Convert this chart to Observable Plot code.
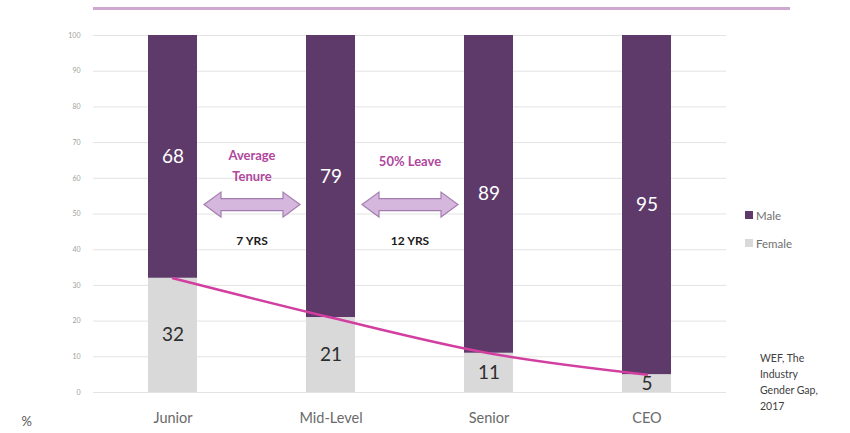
<!DOCTYPE html>
<html>
<head>
<meta charset="utf-8">
<script src="https://cdn.jsdelivr.net/npm/d3@7"></script>
<script src="https://cdn.jsdelivr.net/npm/@observablehq/plot@0.6"></script>
<style>
  body { margin: 0; background: #fff; font-family: Lato, "Open Sans", sans-serif; }
  #wrap { position: relative; width: 850px; height: 433px; overflow: hidden; }
  #topline { position: absolute; left: 93px; top: 7px; width: 697px; height: 3px; background: #cfa7cf; }
  #legend { position: absolute; left: 745px; top: 201px; font-size: 11.5px; color: #707070; }
  #legend div { height: 28px; display: flex; align-items: center; }
  #legend span.sw { display: inline-block; width: 8px; height: 8px; margin-right: 3px; }
  #source { position: absolute; left: 760px; top: 350px; font-size: 10.5px; line-height: 16px; color: #404040; }
  svg text { font-family: Lato, "Open Sans", sans-serif; }
</style>
</head>
<body>
<div id="wrap">
  <div id="topline"></div>
  <div id="legend"></div>
  <div id="source"></div>
</div>
<script>
// Share of men and women at each career level (percent)
const levels = ["Junior", "Mid-Level", "Senior", "CEO"];
const male = [68, 79, 89, 95];
const female = [32, 21, 11, 5];
const genders = ["Male", "Female"];
const genderColors = ["#5d3a69", "#d9d9d9"];
const yTicks = d3.range(0, 101, 10);

// Annotated transitions between levels
const spans = [
  {from: "Junior", to: "Mid-Level", title: ["Average", "Tenure"], years: "7 YRS"},
  {from: "Mid-Level", to: "Senior", title: ["50% Leave"], years: "12 YRS"}
];
const sourceLines = ["WEF, The", "Industry", "Gender Gap,", "2017"];

// Long table: female first so it sits at the bottom of each stack
const rows = levels.flatMap((level, i) => [
  {level, gender: "Female", value: female[i]},
  {level, gender: "Male", value: male[i]}
]);
const femaleRows = levels.map((level, i) => ({level, value: female[i]}));

// Double-headed block arrows with captions, placed between neighbouring bars
function spanMarks(index, scales) {
  const x = scales.x, y = scales.y;
  const bw = x.bandwidth();
  const g = d3.create("svg:g");
  for (const s of spans) {
    const x0 = x(s.from) + bw + 7;
    const x1 = x(s.to) - 6;
    const cx = (x0 + x1) / 2;
    const cy = y(52.5);
    const head = 17, hh = 12.5, sh = 6;
    const pts = [
      [x0, cy], [x0 + head, cy - hh], [x0 + head, cy - sh], [x1 - head, cy - sh],
      [x1 - head, cy - hh], [x1, cy], [x1 - head, cy + hh], [x1 - head, cy + sh],
      [x0 + head, cy + sh], [x0 + head, cy + hh]
    ];
    g.append("path")
      .attr("d", "M" + pts.map(p => p.join(",")).join("L") + "Z")
      .attr("fill", "#d5b7de")
      .attr("stroke", "#a47db0")
      .attr("stroke-width", 1.2);
    const titleY = s.title.length === 2 ? [y(65.8), y(60)] : [y(64.2)];
    s.title.forEach((t, k) => {
      g.append("text")
        .attr("x", cx).attr("y", titleY[k])
        .attr("text-anchor", "middle").attr("dominant-baseline", "middle")
        .attr("font-size", 13).attr("font-weight", "bold")
        .attr("fill", "#b0479d")
        .text(t);
    });
    g.append("text")
      .attr("x", cx).attr("y", y(42))
      .attr("text-anchor", "middle").attr("dominant-baseline", "middle")
      .attr("font-size", 12).attr("font-weight", "bold")
      .attr("fill", "#1a1a1a")
      .text(s.years);
  }
  return g.node();
}

const chart = Plot.plot({
  width: 850,
  height: 433,
  marginLeft: 93,
  marginRight: 124,
  marginTop: 35,
  marginBottom: 41,
  style: {background: "transparent", overflow: "visible"},
  x: {domain: levels, paddingInner: 0.69, paddingOuter: 0.336, label: null},
  y: {domain: [0, 100], label: null},
  color: {domain: genders, range: genderColors},
  marks: [
    Plot.ruleY(yTicks, {stroke: "#e3e3e3", strokeWidth: 1}),
    Plot.axisY({ticks: yTicks, tickSize: 0, tickPadding: 13, fontSize: 7, color: "#a0a0a0", label: null}),
    Plot.axisX({tickSize: 0, tickPadding: 20, fontSize: 14.5, color: "#6a6a6a", label: null}),
    Plot.barY(rows, {x: "level", y: "value", fill: "gender"}),
    Plot.text(rows, Plot.stackY({
      x: "level", y: "value", text: "value",
      fill: d => d.gender === "Male" ? "#ffffff" : "#2e2e2e",
      fontSize: 19
    })),
    Plot.line(femaleRows, {
      x: "level", y: "value", stroke: "#d23fa0", strokeWidth: 2.5, curve: "monotone-x"
    }),
    spanMarks,
    Plot.text(["%"], {frameAnchor: "bottom-left", dx: -72, dy: 33, fontSize: 13, fill: "#555"})
  ]
});
document.getElementById("wrap").prepend(chart);

// Legend swatches
const legend = d3.select("#legend");
genders.forEach((g, i) => {
  const row = legend.append("div");
  row.append("span").attr("class", "sw").style("background", genderColors[i]);
  row.append("span").text(g);
});

// Source note
d3.select("#source").selectAll("div").data(sourceLines).join("div").text(d => d);
</script>
</body>
</html>
